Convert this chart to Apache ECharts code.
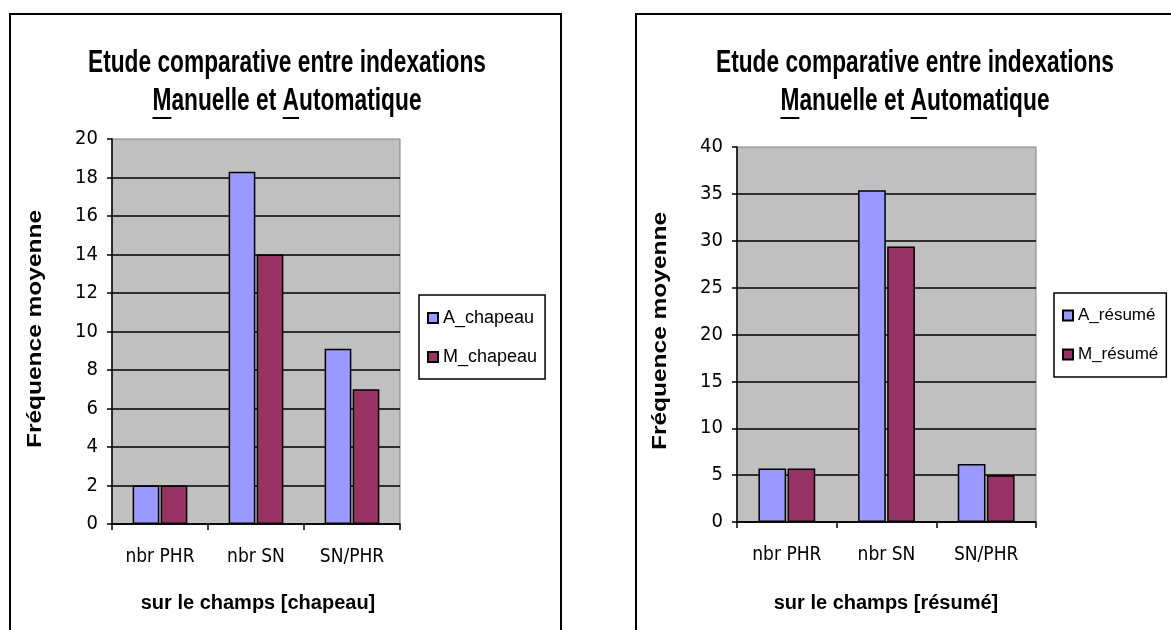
<!DOCTYPE html>
<html>
<head>
<meta charset="utf-8">
<title>Etude comparative entre indexations</title>
<script src="https://cdn.jsdelivr.net/npm/echarts@6/dist/echarts.min.js"></script>
<style>
  html, body { margin: 0; padding: 0; background: #fff; }
  #chart { width: 1171px; height: 630px; }
</style>
</head>
<body>
<div id="chart"></div>
<script>
// Categories shared by both charts
const categories = ['nbr PHR', 'nbr SN', 'SN/PHR'];

// Field "chapeau"
const chapeauNames = ['A_chapeau', 'M_chapeau'];
const chapeauAuto = [2, 18.3, 9.1];
const chapeauManual = [2, 14, 7];

// Field "résumé"
const resumeNames = ['A_résumé', 'M_résumé'];
const resumeAuto = [5.7, 35.4, 6.2];
const resumeManual = [5.7, 29.4, 5];

// Text
const titleLine1 = 'Etude comparative entre indexations';
const titleLine2 = 'Manuelle et Automatique';
const yName = 'Fréquence moyenne';
const xNames = ['sur le champs [chapeau]', 'sur le champs [résumé]'];

const NARROW = '"DejaVu Sans Condensed", "Liberation Sans", sans-serif';
const REGULAR = '"Liberation Sans", Arial, sans-serif';
const TITLE_FONT = 'bold 31px ' + REGULAR;
const YNAME_FONT = 'bold 21px ' + REGULAR;
const NAME_FONT = 'bold 20px ' + REGULAR;

// Condensed title: first line spans this many pixels
const TITLE_SPAN = 398;
const YNAME_SPAN = 238;

const COLOR_A = '#9999ff';
const COLOR_M = '#993366';

const measureCtx = document.createElement('canvas').getContext('2d');
function textWidth(str, font) {
  measureCtx.font = font;
  return measureCtx.measureText(str).width;
}

// Two-line title, horizontally condensed, with underlined access letters (M, A)
function titleGraphics(cx, y1, y2) {
  const s = TITLE_SPAN / textWidth(titleLine1, TITLE_FONT);
  const els = [
    { type: 'text', x: cx, y: y1, scaleX: s, style: { text: titleLine1, font: TITLE_FONT, fill: '#000', align: 'center', verticalAlign: 'middle' } },
    { type: 'text', x: cx, y: y2, scaleX: s, style: { text: titleLine2, font: TITLE_FONT, fill: '#000', align: 'center', verticalAlign: 'middle' } }
  ];
  const total = s * textWidth(titleLine2, TITLE_FONT);
  const start = cx - total / 2;
  const uy = y2 + 17;
  const mW = s * textWidth('M', TITLE_FONT);
  const aStart = start + s * textWidth('Manuelle et ', TITLE_FONT);
  const aW = s * textWidth('A', TITLE_FONT);
  els.push({ type: 'line', shape: { x1: start, y1: uy, x2: start + mW, y2: uy }, style: { stroke: '#000', lineWidth: 2 } });
  els.push({ type: 'line', shape: { x1: aStart, y1: uy, x2: aStart + aW, y2: uy }, style: { stroke: '#000', lineWidth: 2 } });
  return els;
}

function axisNameGraphics(yx, yy, xx, xy, xText) {
  const s = YNAME_SPAN / textWidth(yName, YNAME_FONT);
  return [
    { type: 'text', x: yx, y: yy, rotation: Math.PI / 2, scaleX: s,
      style: { text: yName, font: YNAME_FONT, fill: '#000', align: 'center', verticalAlign: 'middle' } },
    { type: 'text', x: xx, y: xy,
      style: { text: xText, font: NAME_FONT, fill: '#000', align: 'center', verticalAlign: 'middle' } }
  ];
}

function gridDef(left, top, width, height) {
  return {
    left: left, top: top, width: width, height: height,
    show: true, backgroundColor: '#c0c0c0', borderColor: '#808080', borderWidth: 1
  };
}

function xAxisDef(idx) {
  return {
    type: 'category', gridIndex: idx, data: categories,
    axisLine: { show: true, lineStyle: { color: '#000', width: 1.5 } },
    axisTick: { show: true, length: 6, lineStyle: { color: '#000', width: 1.5 } },
    axisLabel: { margin: 24, color: '#000', fontFamily: NARROW, fontSize: 19 },
    splitLine: { show: false }
  };
}

function yAxisDef(idx, max, interval) {
  return {
    type: 'value', gridIndex: idx, min: 0, max: max, interval: interval,
    axisLine: { show: true, lineStyle: { color: '#000', width: 1.5 } },
    axisTick: { show: true, length: 5, lineStyle: { color: '#000', width: 1.5 } },
    axisLabel: { margin: 14, color: '#000', fontFamily: NARROW, fontSize: 20 },
    splitLine: { show: true, showMaxLine: false, lineStyle: { color: '#000', width: 1.5 } }
  };
}

function barSeries(name, data, color, idx) {
  return {
    type: 'bar', name: name, data: data,
    xAxisIndex: idx, yAxisIndex: idx,
    barGap: '5%', barCategoryGap: '43%',
    itemStyle: { color: color, borderColor: '#000', borderWidth: 1.5 },
    emphasis: { disabled: true }
  };
}

function legendDef(names, left, top, fontSize, gap, pad) {
  return {
    data: names, orient: 'vertical', left: left, top: top,
    padding: pad, itemGap: gap,
    itemWidth: 10, itemHeight: 10, icon: 'rect',
    backgroundColor: '#fff', borderColor: '#000', borderWidth: 1.5, borderRadius: 0,
    textStyle: { color: '#000', fontFamily: REGULAR, fontSize: fontSize },
    selectedMode: false
  };
}

const chart = echarts.init(document.getElementById('chart'), null, { renderer: 'canvas' });

chart.setOption({
  animation: false,
  backgroundColor: '#fff',
  grid: [gridDef(112, 139, 288, 385), gridDef(737, 147, 299, 375)],
  xAxis: [xAxisDef(0), xAxisDef(1)],
  yAxis: [yAxisDef(0, 20, 2), yAxisDef(1, 40, 5)],
  legend: [
    legendDef(chapeauNames, 419, 295, 18, 21, [14, 8, 13, 8]),
    legendDef(resumeNames, 1054, 293, 17, 22, [14, 8, 14, 8])
  ],
  series: [
    barSeries(chapeauNames[0], chapeauAuto, COLOR_A, 0),
    barSeries(chapeauNames[1], chapeauManual, COLOR_M, 0),
    barSeries(resumeNames[0], resumeAuto, COLOR_A, 1),
    barSeries(resumeNames[1], resumeManual, COLOR_M, 1)
  ],
  graphic: [
    // Chart-area frames
    { type: 'rect', shape: { x: 10, y: 14, width: 551, height: 700 }, style: { fill: 'none', stroke: '#000', lineWidth: 2 }, z: 100 },
    { type: 'rect', shape: { x: 636, y: 14, width: 551, height: 700 }, style: { fill: 'none', stroke: '#000', lineWidth: 2 }, z: 100 }
  ]
    .concat(titleGraphics(287, 63, 101))
    .concat(titleGraphics(915, 63, 101))
    .concat(axisNameGraphics(35, 329, 258, 603, xNames[0]))
    .concat(axisNameGraphics(660, 331, 886, 603, xNames[1]))
});
</script>
</body>
</html>
